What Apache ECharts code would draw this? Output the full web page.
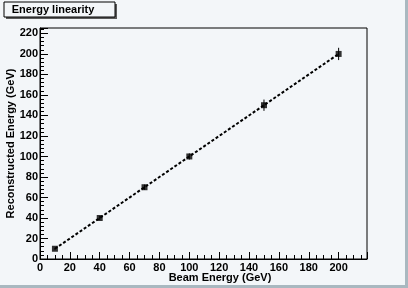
<!DOCTYPE html>
<html><head><meta charset="utf-8">
<script src="https://cdn.jsdelivr.net/npm/echarts@6/dist/echarts.min.js"></script>
<style>html,body{margin:0;padding:0;background:#f3f6f9;}#c{width:408px;height:288px;}</style>
</head><body><div id="c"></div>
<script>
const beamEnergy = [10, 40, 70, 100, 150, 200];
const recoEnergy = [10, 40, 70, 100, 150, 200];
const recoError = [1, 2, 2.5, 3, 5.5, 6];
const fitX = [10, 200];
const fitY = [10, 200];
const titleText = 'Energy linearity';
const xTitle = 'Beam Energy (GeV)';
const yTitle = 'Reconstructed Energy (GeV)';

const FONT = '"Liberation Sans", Arial, sans-serif';
const BG = '#f3f6f9';
const chart = echarts.init(document.getElementById('c'), null, {renderer: 'canvas'});
const pts = beamEnergy.map((x, i) => [x, recoEnergy[i]]);
const errs = beamEnergy.map((x, i) => [x, recoEnergy[i] - recoError[i], recoEnergy[i] + recoError[i]]);
const fitLine = fitX.map((x, i) => [x, fitY[i]]);

chart.setOption({
  backgroundColor: BG,
  animation: false,
  grid: {left: 40, top: 28, right: 41, bottom: 29, containLabel: false, outerBoundsMode: 'none',
         show: true, borderColor: '#000', borderWidth: 1, backgroundColor: BG},
  xAxis: {
    type: 'value', min: 0, max: 219, interval: 20,
    axisLine: {onZero: false, lineStyle: {color: '#000', width: 1}},
    axisTick: {inside: true, length: 7, lineStyle: {color: '#000'}},
    minorTick: {show: true, splitNumber: 4, length: 4, lineStyle: {color: '#000'}},
    splitLine: {show: false},
    axisLabel: {showMaxLabel: false, color: '#000', fontFamily: FONT, fontWeight: 'bold', fontSize: 11, margin: 3},
    name: xTitle, nameLocation: 'middle', nameGap: 13, nameMoveOverlap: false,
    nameTextStyle: {color: '#000', fontFamily: FONT, fontWeight: 'bold', fontSize: 11, padding: [0, 0, 0, 33]}
  },
  yAxis: {
    type: 'value', min: 0, max: 225.3, interval: 20,
    axisLine: {onZero: false, lineStyle: {color: '#000', width: 1}},
    axisTick: {inside: true, length: 8, lineStyle: {color: '#000'}},
    minorTick: {show: true, splitNumber: 5, length: 4, lineStyle: {color: '#000'}},
    splitLine: {show: false},
    axisLabel: {showMaxLabel: false, color: '#000', fontFamily: FONT, fontWeight: 'bold', fontSize: 11, margin: 2},
    name: yTitle, nameLocation: 'middle', nameGap: 24, nameRotate: 90, nameMoveOverlap: false,
    nameTextStyle: {color: '#000', fontFamily: FONT, fontWeight: 'bold', fontSize: 11}
  },
  series: [
    {
      type: 'line', data: fitLine, symbol: 'none', z: 2,
      lineStyle: {color: '#000', width: 2, type: [3, 2]}
    },
    {
      type: 'custom', z: 3,
      renderItem: function (params, api) {
        const p1 = api.coord([api.value(0), api.value(1)]);
        const p2 = api.coord([api.value(0), api.value(2)]);
        return {type: 'line', shape: {x1: p1[0], y1: p1[1], x2: p2[0], y2: p2[1]}, style: {stroke: '#000', lineWidth: 1}};
      },
      data: errs
    },
    {
      type: 'scatter', data: pts, symbol: 'rect', symbolSize: 6, z: 4,
      itemStyle: {color: '#000'}
    }
  ],
  graphic: [
    {type: 'rect', shape: {x: 6, y: 4, width: 111, height: 15}, style: {fill: '#5a5a5a'}, z: 10},
    {type: 'rect', shape: {x: 4, y: 2, width: 111, height: 15}, style: {fill: BG, stroke: '#000', lineWidth: 1}, z: 11},
    {type: 'text', x: 53, y: 9.5, style: {text: titleText, fill: '#000', font: 'bold 11px ' + FONT, textAlign: 'center', textVerticalAlign: 'middle'}, z: 12},
    {type: 'rect', shape: {x: 405, y: 0, width: 3, height: 288}, style: {fill: '#a9b8c0'}, z: 10},
    {type: 'rect', shape: {x: 0, y: 285, width: 408, height: 3}, style: {fill: '#a9b8c0'}, z: 10}
  ]
});
</script></body></html>
